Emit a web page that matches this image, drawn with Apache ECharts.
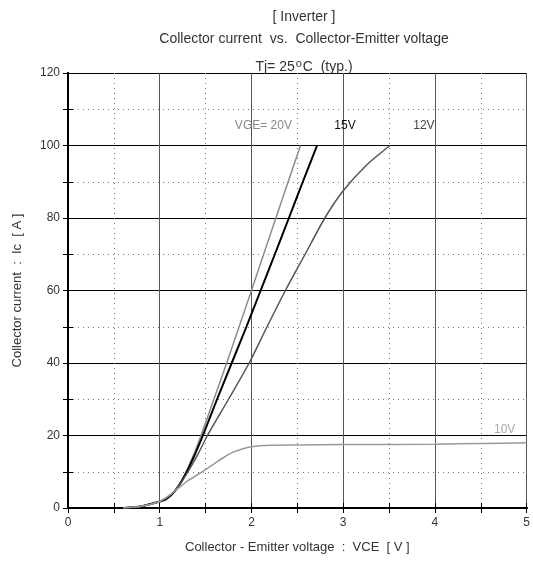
<!DOCTYPE html>
<html>
<head>
<meta charset="utf-8">
<script src="https://cdn.jsdelivr.net/npm/echarts@6/dist/echarts.min.js"></script>
<style>
  html, body { margin: 0; padding: 0; background: #fff; }
  #chart { width: 533px; height: 563px; }
</style>
</head>
<body>
<div id="chart"></div>
<script>
  // VCE [V], Ic [A]
  let vge20 = [[0.6, 0], [0.8, 0.5], [1.0, 1.8], [1.05, 2.3], [1.15, 4.3], [1.25, 8], [1.35, 13.5], [1.45, 20], [1.59, 30], [1.73, 40], [1.865, 50], [2.0, 60], [2.133, 70], [2.266, 80], [2.4, 90], [2.535, 100]];
  let vge15 = [[0.6, 0], [0.8, 0.5], [1.0, 1.8], [1.07, 2.4], [1.17, 4.8], [1.27, 8.8], [1.37, 14], [1.47, 20], [1.625, 30], [1.785, 40], [1.945, 50], [2.1, 60], [2.255, 70], [2.408, 80], [2.56, 90], [2.715, 100]];
  let vge12 = [[0.6, 0], [0.8, 0.5], [1.0, 1.8], [1.12, 3.7], [1.22, 6.5], [1.32, 10.5], [1.42, 15], [1.52, 20], [1.75, 30], [1.975, 40], [2.17, 50], [2.37, 60], [2.585, 70], [2.8, 80], [3.0, 87.5], [3.25, 94.5], [3.51, 100]];
  let vge10 = [[0.6, 0], [0.8, 0.5], [1.0, 1.8], [1.1, 3.4], [1.2, 5.4], [1.3, 7.4], [1.4, 9], [1.5, 10.6], [1.6, 12.3], [1.7, 14], [1.8, 15.4], [1.9, 16.3], [2.0, 16.9], [2.2, 17.3], [2.5, 17.4], [3.0, 17.5], [4.0, 17.6], [4.5, 17.8], [5.0, 18]];
  let curveNames = ['VGE= 20V', '15V', '12V', '10V'];

  let font = 'Liberation Sans';

  function curve(name, data, color, width, labelCoord, labelColor) {
    return {
      name: name,
      type: 'line',
      data: data,
      smooth: 0.25,
      symbol: 'none',
      lineStyle: { color: color, width: width },
      markPoint: {
        symbol: 'circle',
        symbolSize: 0,
        data: [{ coord: labelCoord, value: name }],
        label: {
          show: true,
          formatter: name,
          color: labelColor,
          fontFamily: font,
          fontSize: 12
        }
      },
      z: 5
    };
  }

  // frame axes that only carry the inward ticks
  function tickAxis(pos, max, step) {
    return {
      type: 'value', min: 0, max: max, interval: step, position: pos,
      axisLine: { show: true, lineStyle: { color: '#000', width: 2 } },
      axisTick: { show: true, inside: true, length: 5, lineStyle: { color: '#000' } },
      axisLabel: { show: false },
      splitLine: { show: false }
    };
  }

  let chart = echarts.init(document.getElementById('chart'));
  chart.setOption({
    animation: false,
    textStyle: { fontFamily: font },
    title: [
      { text: '[ Inverter ]', left: 299, top: 5, textAlign: 'center', textStyle: { fontSize: 14, fontWeight: 'normal', color: '#333' } },
      { text: 'Collector current  vs.  Collector-Emitter voltage', left: 299, top: 27, textAlign: 'center', textStyle: { fontSize: 14, fontWeight: 'normal', color: '#333' } },
      {
        text: 'Tj= 25{sup|o}C  (typ.)', left: 299, top: 53, textAlign: 'center',
        textStyle: {
          fontSize: 14, fontWeight: 'normal', color: '#333',
          rich: { sup: { fontSize: 11, verticalAlign: 'top', padding: [0, 1, 7, 1], color: '#333' } }
        }
      }
    ],
    grid: { left: 68, right: 4, top: 73, bottom: 55 },
    xAxis: [{
      type: 'value', min: 0, max: 5, interval: 1,
      name: 'Collector - Emitter voltage  :  VCE  [ V ]',
      nameLocation: 'middle', nameGap: 33,
      nameTextStyle: { color: '#333', fontSize: 13 },
      axisLine: { lineStyle: { color: '#000', width: 2 } },
      axisTick: { show: false },
      axisLabel: { color: '#333', fontSize: 12, margin: 9 },
      splitLine: { lineStyle: { color: '#555', width: 1 } },
      minorTick: { show: false, splitNumber: 2 },
      minorSplitLine: { show: true, lineStyle: { color: '#777', type: [1, 4] } }
    }, tickAxis('bottom', 5, 0.5), tickAxis('top', 5, 0.5)],
    yAxis: [{
      type: 'value', min: 0, max: 120, interval: 20,
      name: 'Collector current  :  Ic  [ A ]',
      nameLocation: 'middle', nameGap: 44,
      nameTextStyle: { color: '#333', fontSize: 13 },
      axisLine: { show: true, lineStyle: { color: '#000', width: 2 } },
      axisTick: { show: false },
      axisLabel: { color: '#333', fontSize: 12, margin: 8 },
      splitLine: { lineStyle: { color: '#000', width: 1 } },
      minorTick: { show: false, splitNumber: 2 },
      minorSplitLine: { show: true, lineStyle: { color: '#777', type: [1, 4] } }
    }, tickAxis('left', 120, 10), tickAxis('right', 120, 10)],
    series: [
      curve(curveNames[0], vge20, '#8a8a8a', 1.5, [2.13, 105.5], '#888'),
      curve(curveNames[1], vge15, '#000', 2, [3.02, 105.5], '#111'),
      curve(curveNames[2], vge12, '#555', 1.5, [3.88, 105.5], '#444'),
      curve(curveNames[3], vge10, '#9a9a9a', 1.5, [4.76, 21.5], '#aaa')
    ]
  });
</script>
</body>
</html>
